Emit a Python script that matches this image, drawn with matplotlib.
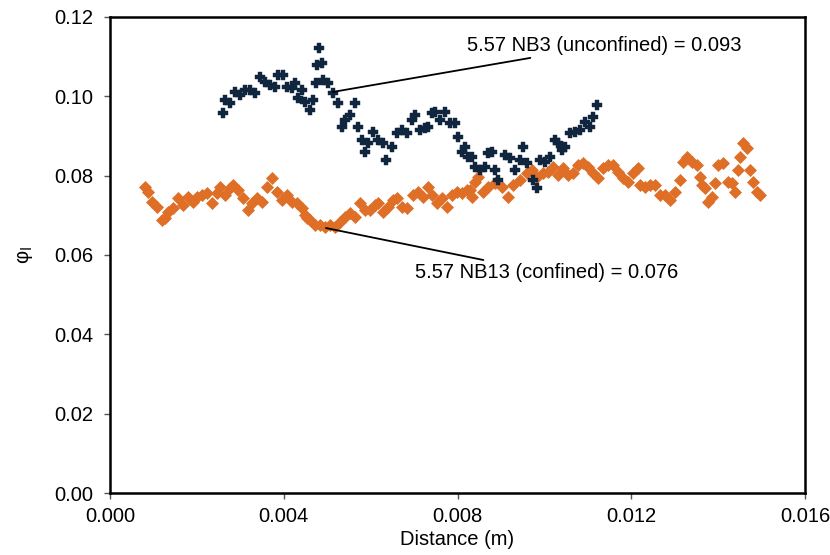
import matplotlib
matplotlib.use("Agg")
import matplotlib.pyplot as plt
from matplotlib.ticker import MultipleLocator, FormatStrFormatter

plt.rcParams['font.family'] = ['Liberation Sans', 'DejaVu Sans']

# 5.57 NB3 (unconfined)
nb3_x = [0.00260, 0.00265, 0.00276, 0.00288, 0.00299, 0.00311, 0.00322, 0.00334, 0.00345, 0.00357,
         0.00368, 0.00380, 0.00387, 0.00398, 0.00407, 0.00419, 0.00426, 0.00433, 0.00442, 0.00449,
         0.00460, 0.00467, 0.00474, 0.00477, 0.00481, 0.00488, 0.00490, 0.00502, 0.00513, 0.00525,
         0.00534, 0.00541, 0.00552, 0.00564, 0.00571, 0.00580, 0.00587, 0.00594, 0.00605, 0.00617,
         0.00628, 0.00635, 0.00649, 0.00661, 0.00672, 0.00684, 0.00695, 0.00702, 0.00714, 0.00725,
         0.00732, 0.00741, 0.00748, 0.00760, 0.00771, 0.00783, 0.00794, 0.00801, 0.00810, 0.00817,
         0.00824, 0.00833, 0.00840, 0.00852, 0.00863, 0.00870, 0.00879, 0.00886, 0.00893, 0.00909,
         0.00921, 0.00932, 0.00944, 0.00951, 0.00960, 0.00974, 0.00983, 0.00990, 0.01001, 0.01013,
         0.01024, 0.01031, 0.01041, 0.01047, 0.01059, 0.01070, 0.01082, 0.01093, 0.01105, 0.01112,
         0.01121]
nb3_y = [0.0958, 0.0991, 0.0983, 0.1011, 0.1003, 0.1016, 0.1016, 0.1008, 0.1049, 0.1036,
         0.1029, 0.1024, 0.1054, 0.1054, 0.1024, 0.1021, 0.1034, 0.0996, 0.1016, 0.0986,
         0.0966, 0.0991, 0.1034, 0.1079, 0.1122, 0.1084, 0.1041, 0.1034, 0.1008, 0.0983,
         0.0923, 0.0940, 0.0953, 0.0983, 0.0923, 0.0890, 0.0860, 0.0882, 0.0910, 0.0890,
         0.0882, 0.0840, 0.0872, 0.0908, 0.0915, 0.0908, 0.0940, 0.0953, 0.0915, 0.0920,
         0.0923, 0.0958, 0.0961, 0.0940, 0.0961, 0.0933, 0.0933, 0.0897, 0.0860, 0.0872,
         0.0847, 0.0847, 0.0822, 0.0814, 0.0822, 0.0857, 0.0860, 0.0814, 0.0789, 0.0852,
         0.0845, 0.0814, 0.0840, 0.0872, 0.0832, 0.0789, 0.0769, 0.0840, 0.0834, 0.0847,
         0.0890, 0.0882, 0.0865, 0.0872, 0.0908, 0.0910, 0.0915, 0.0935, 0.0923, 0.0948,
         0.0978]

# 5.57 NB13 (confined)
nb13_x = [0.000806, 0.000875, 0.000967, 0.001082, 0.001197, 0.001266, 0.001335, 0.001450, 0.001565, 0.001680,
          0.001796, 0.001911, 0.002003, 0.002118, 0.002233, 0.002348, 0.002463, 0.002532, 0.002647, 0.002762,
          0.002831, 0.002947, 0.003062, 0.003177, 0.003269, 0.003384, 0.003499, 0.003614, 0.003729, 0.003844,
          0.003959, 0.004075, 0.004190, 0.004305, 0.004420, 0.004489, 0.004535, 0.004604, 0.004719, 0.004834,
          0.004949, 0.005064, 0.005179, 0.005295, 0.005410, 0.005525, 0.005640, 0.005755, 0.005870, 0.005985,
          0.006100, 0.006169, 0.006285, 0.006400, 0.006515, 0.006607, 0.006722, 0.006837, 0.006975, 0.007090,
          0.007205, 0.007320, 0.007412, 0.007528, 0.007643, 0.007758, 0.007873, 0.007988, 0.008103, 0.008218,
          0.008287, 0.008333, 0.008402, 0.008472, 0.008587, 0.008702, 0.008863, 0.009024, 0.009162, 0.009277,
          0.009438, 0.009599, 0.009714, 0.009830, 0.009968, 0.010083, 0.010198, 0.010313, 0.010428, 0.010543,
          0.010658, 0.010773, 0.010888, 0.011004, 0.011119, 0.011234, 0.011349, 0.011464, 0.011579, 0.011694,
          0.011809, 0.011924, 0.012039, 0.012155, 0.012201, 0.012316, 0.012431, 0.012546, 0.012661, 0.012776,
          0.012891, 0.013006, 0.013121, 0.013190, 0.013283, 0.013398, 0.013513, 0.013582, 0.013628, 0.013697,
          0.013766, 0.013858, 0.013927, 0.013996, 0.014111, 0.014226, 0.014318, 0.014388, 0.014457, 0.014503,
          0.014572, 0.014664, 0.014733, 0.014802, 0.014894, 0.014963]
nb13_y = [0.0771, 0.0759, 0.0734, 0.0721, 0.0688, 0.0693, 0.0708, 0.0718, 0.0744, 0.0726,
          0.0746, 0.0734, 0.0746, 0.0751, 0.0756, 0.0731, 0.0756, 0.0771, 0.0751, 0.0769,
          0.0776, 0.0764, 0.0744, 0.0713, 0.0731, 0.0744, 0.0734, 0.0771, 0.0794, 0.0759,
          0.0739, 0.0751, 0.0734, 0.0731, 0.0718, 0.0701, 0.0693, 0.0688, 0.0676, 0.0676,
          0.0671, 0.0676, 0.0671, 0.0683, 0.0696, 0.0706, 0.0696, 0.0731, 0.0713, 0.0713,
          0.0726, 0.0731, 0.0708, 0.0721, 0.0739, 0.0744, 0.0721, 0.0718, 0.0751, 0.0759,
          0.0746, 0.0771, 0.0751, 0.0731, 0.0744, 0.0721, 0.0751, 0.0759, 0.0756, 0.0764,
          0.0764, 0.0746, 0.0784, 0.0797, 0.0759, 0.0771, 0.0782, 0.0771, 0.0746, 0.0776,
          0.0789, 0.0807, 0.0814, 0.0797, 0.0807, 0.0809, 0.0822, 0.0802, 0.0819, 0.0802,
          0.0807, 0.0827, 0.0832, 0.0822, 0.0807, 0.0794, 0.0819, 0.0827, 0.0827, 0.0809,
          0.0794, 0.0784, 0.0807, 0.0819, 0.0776, 0.0771, 0.0776, 0.0776, 0.0751, 0.0751,
          0.0739, 0.0759, 0.0789, 0.0834, 0.0847, 0.0834, 0.0827, 0.0797, 0.0776, 0.0769,
          0.0734, 0.0746, 0.0782, 0.0827, 0.0832, 0.0784, 0.0782, 0.0759, 0.0814, 0.0847,
          0.0882, 0.0870, 0.0814, 0.0784, 0.0759, 0.0751]

navy = '#10263F'
orange = '#DF6E27'

fig = plt.figure(figsize=(8.3, 5.55), dpi=100)
ax = fig.add_axes([0.1325, 0.1117, 0.8375, 0.8577])

ax.plot(nb13_x, nb13_y, linestyle='none', marker='D', markersize=6.3,
        color=orange, markeredgecolor=orange, markeredgewidth=0.5)
ax.plot(nb3_x, nb3_y, linestyle='none', marker='P', markersize=7,
        color=navy, markeredgecolor=navy, markeredgewidth=0.3)

ax.set_xlim(0, 0.016)
ax.set_ylim(0, 0.12)
ax.xaxis.set_major_locator(MultipleLocator(0.004))
ax.yaxis.set_major_locator(MultipleLocator(0.02))
ax.xaxis.set_major_formatter(FormatStrFormatter('%.3f'))
ax.yaxis.set_major_formatter(FormatStrFormatter('%.2f'))
ax.tick_params(direction='out', length=4, width=1, labelsize=14.5, color='#555555')
ax.tick_params(axis='y', pad=8)
ax.tick_params(axis='x', pad=6)
for s in ax.spines.values():
    s.set_linewidth(1.8)

ax.set_xlabel('Distance (m)', fontsize=14.5, labelpad=3)
ax.set_ylabel('φ$_\\mathrm{l}$', fontsize=14.5, labelpad=14)

# annotations
ax.annotate('5.57 NB3 (unconfined) = 0.093', xy=(0.00513, 0.1011), xytext=(0.00822, 0.1129),
            fontsize=14.5, va='center', ha='left',
            arrowprops=dict(arrowstyle='-', color='black', lw=1.3, shrinkA=2, shrinkB=0))
ax.annotate('5.57 NB13 (confined) = 0.076', xy=(0.00497, 0.0668), xytext=(0.00702, 0.0555),
            fontsize=14.5, va='center', ha='left',
            arrowprops=dict(arrowstyle='-', color='black', lw=1.3, shrinkA=2, shrinkB=0))

fig.savefig('out.png', dpi=100)
